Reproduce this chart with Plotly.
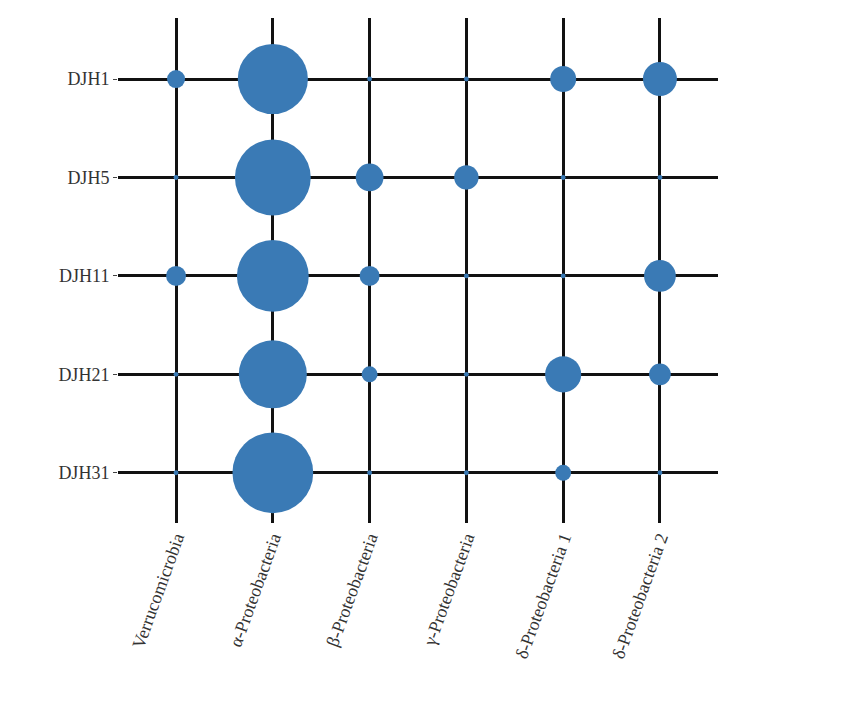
import plotly.graph_objects as go

samples = ["DJH1", "DJH5", "DJH11", "DJH21", "DJH31"]
taxa = ["Verrucomicrobia", "α-Proteobacteria", "β-Proteobacteria",
        "γ-Proteobacteria", "δ-Proteobacteria 1", "δ-Proteobacteria 2"]
values = [
    [5.5, 83, 0.4, 0.4, 11.4, 19.5],
    [0.4, 97, 13, 10, 0.4, 0.4],
    [6.7, 87, 6.7, 0.4, 0.4, 17],
    [0.4, 78, 4.3, 0.4, 22, 8],
    [0.4, 110, 0.4, 0.4, 4.3, 0.4],
]
legend_vals = [25, 50, 75]
legend_labels = ["25%", "50%", "75%"]

sref = 2 / 59.3
xs, ys, ss = [], [], []
for i, row in enumerate(values):
    for j, v in enumerate(row):
        xs.append(j); ys.append(i); ss.append(v)

fig = go.Figure()
fig.add_trace(go.Scatter(x=xs, y=ys, mode="markers", cliponaxis=False,
                         marker=dict(size=ss, sizemode="area", sizeref=sref, opacity=1,
                                     color="#3a7ab5", line_width=0),
                         showlegend=False))
fig.add_trace(go.Scatter(x=[6.22] * 3, y=[1.41, 2.09, 2.92], mode="markers+text",
                         cliponaxis=False,
                         text=legend_labels, textposition="middle right",
                         textfont=dict(family="Liberation Serif", size=18, color="#222"),
                         marker=dict(size=legend_vals, sizemode="area", sizeref=sref,
                                     opacity=1, color="#3a7ab5", line_width=0),
                         showlegend=False))
fig.add_annotation(x=6.11, y=0.92, text="Value", showarrow=False,
                   font=dict(family="Liberation Serif", size=18, color="#222"))

fig.update_layout(
    width=850, height=710, margin=dict(l=110, r=140, t=10, b=195),
    plot_bgcolor="white", paper_bgcolor="white",
    font=dict(family="Liberation Serif", size=18, color="#333"),
    xaxis=dict(tickvals=list(range(6)), ticktext=taxa, range=[-0.6, 5.6],
               tickangle=-70, showgrid=True, gridcolor="#111", gridwidth=3,
               zeroline=False, showline=False, ticks=""),
    yaxis=dict(tickvals=list(range(5)), ticktext=samples, range=[4.51, -0.62],
               showgrid=True, gridcolor="#111", gridwidth=3,
               zeroline=False, showline=False, ticks="outside", ticklen=4),
)
fig.write_html("out.html")
